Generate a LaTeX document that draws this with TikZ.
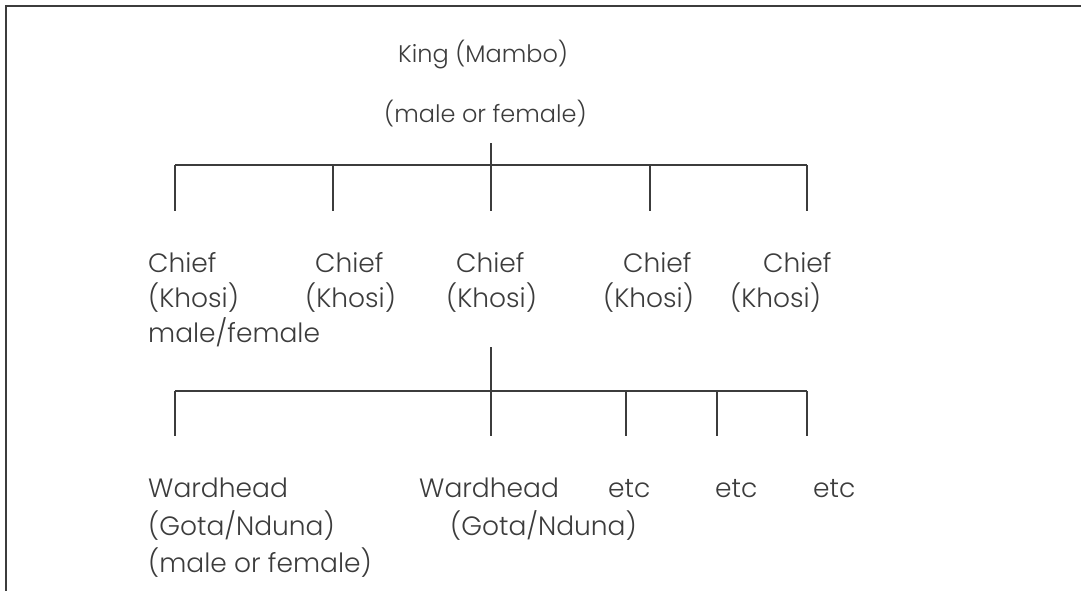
\documentclass[tikz,border=0pt]{standalone}
\usepackage{fontspec}
\setmainfont{Poppins Light}
\definecolor{ink}{HTML}{3C3C3C}
\begin{document}
\begin{tikzpicture}[x=1pt,y=-1pt,
  lbl/.style={anchor=base west, inner sep=0pt, text=ink,
              font=\fontsize{26.5}{30}\selectfont},
  toplbl/.style={lbl, font=\fontsize{24}{28}\selectfont},
  link/.style={draw=ink, line width=1.5pt},
  frame/.style={draw=ink, line width=1.8pt}]
\useasboundingbox (0,0) rectangle (1081,591);

% open frame: left and top edges only
\draw[frame] (6,591) -- (6,6) -- (1081,6);

% king
\node[toplbl] (king)  at (398,63)  {King (Mambo)};
\node[toplbl] (kingg) at (384,123) {(male or female)};

% chiefs
\node[lbl] (c1) at (148,272) {Chief};
\node[lbl] (k1) at (148,307) {(Khosi)};
\node[lbl] (g1) at (148,342) {male/female};
\node[lbl] (c2) at (315,272) {Chief};
\node[lbl] (k2) at (305,307) {(Khosi)};
\node[lbl] (c3) at (456,272) {Chief};
\node[lbl] (k3) at (446,307) {(Khosi)};
\node[lbl] (c4) at (623,272) {Chief};
\node[lbl] (k4) at (603,307) {(Khosi)};
\node[lbl] (c5) at (763,272) {Chief};
\node[lbl] (k5) at (730,307) {(Khosi)};

% ward heads
\node[lbl] (w1) at (148,497) {Wardhead};
\node[lbl] (n1) at (148,535) {(Gota/Nduna)};
\node[lbl] (m1) at (148,572) {(male or female)};
\node[lbl] (w2) at (419,497) {Wardhead};
\node[lbl] (n2) at (450,535) {(Gota/Nduna)};
\node[lbl] (e1) at (608,497) {etc};
\node[lbl] (e2) at (715,497) {etc};
\node[lbl] (e3) at (813,497) {etc};

% king -> chiefs
\coordinate (ka) at (491,143);
\coordinate (kb) at (491,165);
\coordinate (kl) at (175,165);
\coordinate (kr) at (807,165);
\foreach \x [count=\i] in {175,333,491,650,807}
  \coordinate (cs\i) at (\x,211);
\draw[link] (ka) -- (kb);
\draw[link] (kl) -- (kr);
\foreach \x [count=\i] in {175,333,491,650,807}
  \draw[link] (\x,165) -- (cs\i);

% chief -> ward heads
\coordinate (ca) at (491,347);
\coordinate (cb) at (491,391);
\coordinate (cl) at (175,391);
\coordinate (cr) at (807,391);
\foreach \x [count=\i] in {175,491,626,717,807}
  \coordinate (ws\i) at (\x,436);
\draw[link] (ca) -- (cb);
\draw[link] (cl) -- (cr);
\foreach \x [count=\i] in {175,491,626,717,807}
  \draw[link] (\x,391) -- (ws\i);
\end{tikzpicture}
\end{document}
